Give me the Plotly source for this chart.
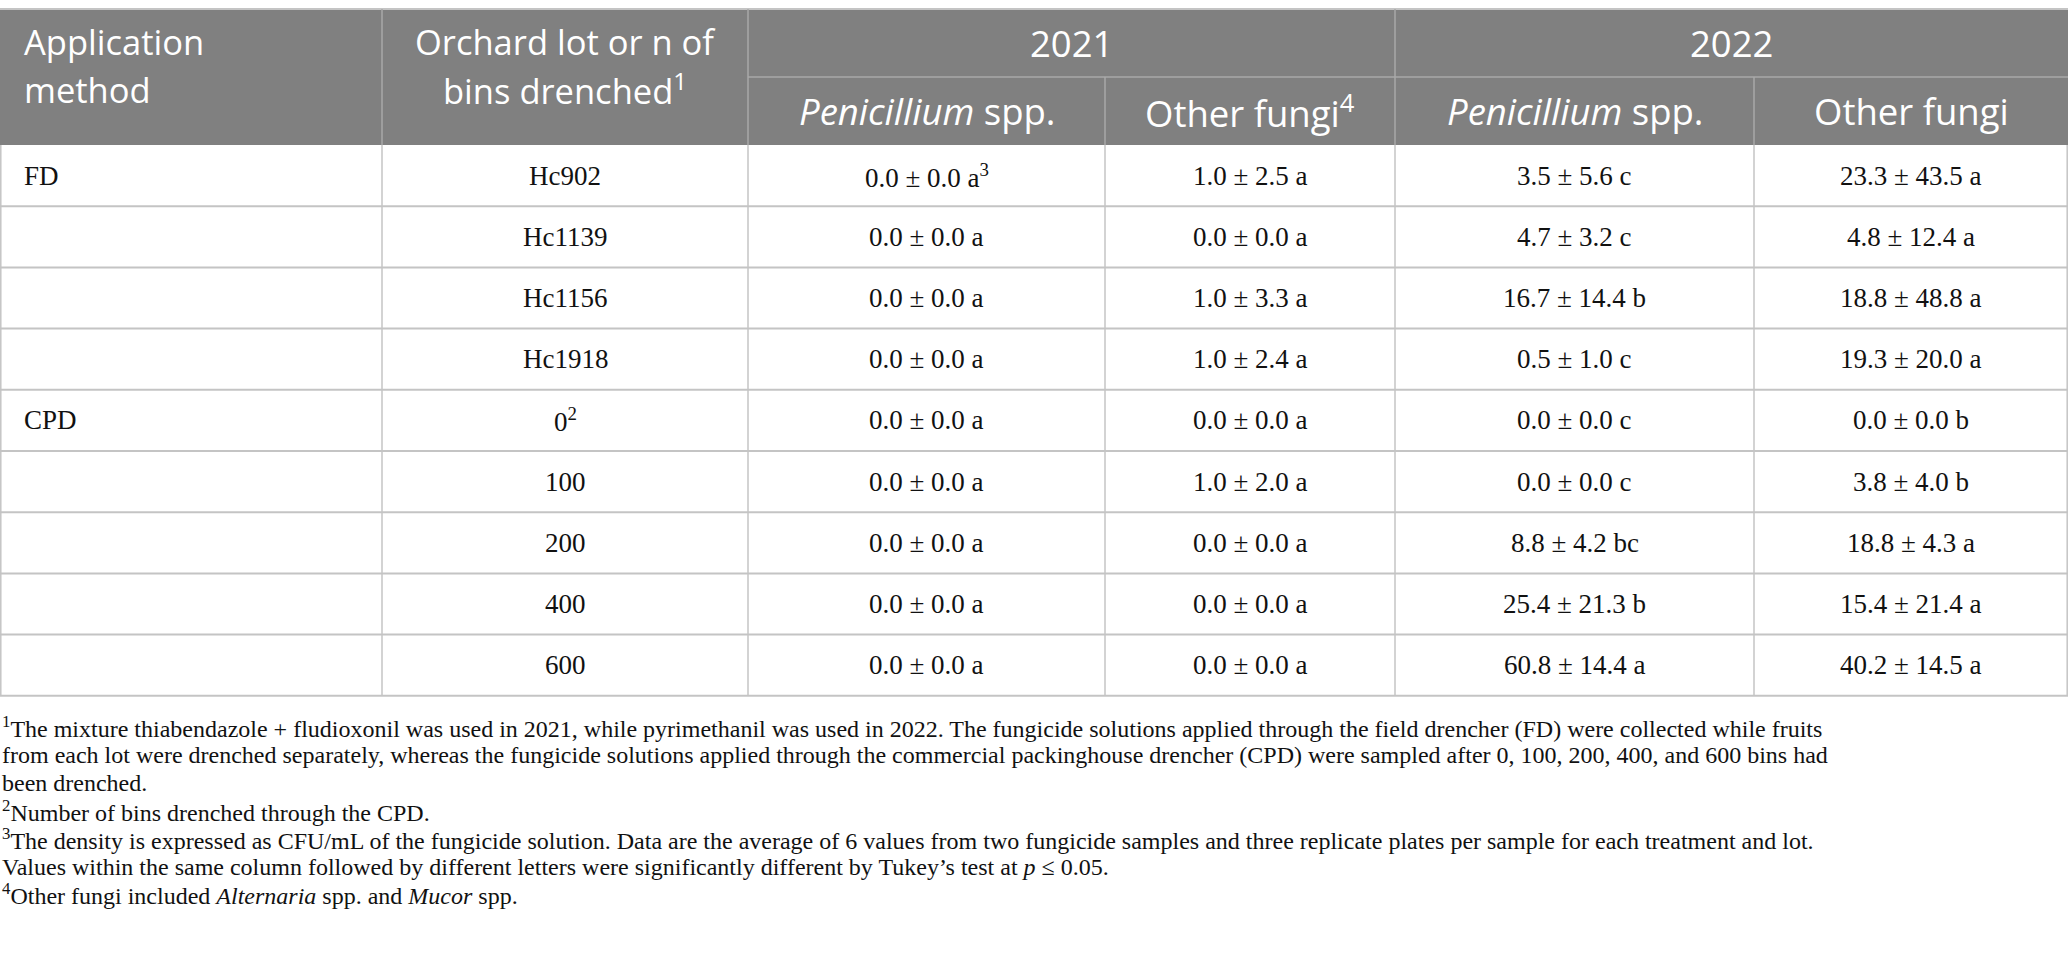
import plotly.graph_objects as go

# Table content.
methods = ["FD", "", "", "", "CPD", "", "", "", ""]
lots = ["Hc902", "Hc1139", "Hc1156", "Hc1918", "0<sup>2</sup>", "100", "200", "400", "600"]

pen21_mean = [0.0, 0.0, 0.0, 0.0, 0.0, 0.0, 0.0, 0.0, 0.0]
pen21_sd = [0.0, 0.0, 0.0, 0.0, 0.0, 0.0, 0.0, 0.0, 0.0]
pen21_letter = ["a", "a", "a", "a", "a", "a", "a", "a", "a"]

oth21_mean = [1.0, 0.0, 1.0, 1.0, 0.0, 1.0, 0.0, 0.0, 0.0]
oth21_sd = [2.5, 0.0, 3.3, 2.4, 0.0, 2.0, 0.0, 0.0, 0.0]
oth21_letter = ["a", "a", "a", "a", "a", "a", "a", "a", "a"]

pen22_mean = [3.5, 4.7, 16.7, 0.5, 0.0, 0.0, 8.8, 25.4, 60.8]
pen22_sd = [5.6, 3.2, 14.4, 1.0, 0.0, 0.0, 4.2, 21.3, 14.4]
pen22_letter = ["c", "c", "b", "c", "c", "c", "bc", "b", "a"]

oth22_mean = [23.3, 4.8, 18.8, 19.3, 0.0, 3.8, 18.8, 15.4, 40.2]
oth22_sd = [43.5, 12.4, 48.8, 20.0, 0.0, 4.0, 4.3, 21.4, 14.5]
oth22_letter = ["a", "a", "a", "a", "b", "b", "a", "a", "a"]

method_header = ["Application", "method"]
lot_header = ["Orchard lot or n of", "bins drenched<sup>1</sup>"]
years = ["2021", "2022"]
sub_headers = ["<i>Penicillium</i> spp.", "Other fungi<sup>4</sup>",
               "<i>Penicillium</i> spp.", "Other fungi"]

footnotes = [
    "<sup>1</sup>The mixture thiabendazole + fludioxonil was used in 2021, while pyrimethanil was used in 2022. "
    "The fungicide solutions applied through the field drencher (FD) were collected while fruits",
    "from each lot were drenched separately, whereas the fungicide solutions applied through the commercial "
    "packinghouse drencher (CPD) were sampled after 0, 100, 200, 400, and 600 bins had",
    "been drenched.",
    "<sup>2</sup>Number of bins drenched through the CPD.",
    "<sup>3</sup>The density is expressed as CFU/mL of the fungicide solution. Data are the average of 6 values "
    "from two fungicide samples and three replicate plates per sample for each treatment and lot.",
    "Values within the same column followed by different letters were significantly different by Tukey’s test "
    "at <i>p</i> ≤ 0.05.",
    "<sup>4</sup>Other fungi included <i>Alternaria</i> spp. and <i>Mucor</i> spp.",
]

# Layout geometry (pixels).
W, H = 2068, 979
col_edges = [0, 382, 748, 1105, 1395, 1754, 2068]
head_top, head_mid, head_bot = 9, 77, 145
head_lines_y = [41.5, 89]
row_h = 61.2
fn_top, fn_step = 727, 27.9

header_bg = "#808080"
grid = "#c4c4c4"
head_grid = "#a9a9a9"
sans = "Open Sans"
serif = "Liberation Serif"


def fmt(m, s, l):
    return f"{m:.1f} ± {s:.1f} {l}"


value_cols = []
for means, sds, letters in [(pen21_mean, pen21_sd, pen21_letter),
                            (oth21_mean, oth21_sd, oth21_letter),
                            (pen22_mean, pen22_sd, pen22_letter),
                            (oth22_mean, oth22_sd, oth22_letter)]:
    value_cols.append([fmt(m, s, l) for m, s, l in zip(means, sds, letters)])
value_cols[0][0] += "<sup>3</sup>"

n_rows = len(lots)
row_edges = [head_bot + i * row_h for i in range(n_rows + 1)]

shapes = []
annotations = []


def line(x0, y0, x1, y1, color, width):
    shapes.append(dict(type="line", xref="x", yref="y", x0=x0, y0=y0, x1=x1, y1=y1,
                       line=dict(color=color, width=width)))


# Header block.
shapes.append(dict(type="rect", xref="x", yref="y", x0=0, y0=head_top, x1=W, y1=head_bot,
                   fillcolor=header_bg, line=dict(width=0), layer="below"))
line(0, head_top, W, head_top, grid, 2)
for x in [col_edges[1], col_edges[2], col_edges[4]]:
    line(x, head_top, x, head_bot, head_grid, 1.5)
for x in [col_edges[3], col_edges[5]]:
    line(x, head_mid, x, head_bot, head_grid, 1.5)
line(col_edges[2], head_mid, W, head_mid, head_grid, 1.5)

# Body grid.
for y in row_edges[1:]:
    line(0, y, W, y, grid, 2)
for x in col_edges[1:-1]:
    line(x, head_bot, x, row_edges[-1], grid, 1.5)
line(0.8, head_bot, 0.8, row_edges[-1], grid, 1.5)
line(W - 0.8, head_bot, W - 0.8, row_edges[-1], grid, 1.5)

head_font = dict(family=sans, size=36.5, color="white")
head2_font = dict(family=sans, size=34.5, color="white")
body_font = dict(family=serif, size=27, color="#111111")

# Header texts.
for txt, y in zip(method_header, head_lines_y):
    annotations.append(dict(x=22, y=y, text=txt, xanchor="left", yanchor="middle",
                            showarrow=False, font=head2_font))
for txt, y in zip(lot_header, head_lines_y):
    annotations.append(dict(x=(col_edges[1] + col_edges[2]) / 2, y=y, text=txt,
                            xanchor="center", yanchor="middle", showarrow=False, font=head2_font))
for i, yr in enumerate(years):
    x0, x1 = col_edges[2 + 2 * i], col_edges[4 + 2 * i]
    annotations.append(dict(x=(x0 + x1) / 2, y=(head_top + head_mid) / 2, text=yr,
                            xanchor="center", yanchor="middle", showarrow=False, font=head_font))
for i, sh in enumerate(sub_headers):
    x0, x1 = col_edges[2 + i], col_edges[3 + i]
    annotations.append(dict(x=(x0 + x1) / 2, y=(head_mid + head_bot) / 2, text=sh,
                            xanchor="center", yanchor="middle", showarrow=False, font=head_font))

# Body texts.
for r in range(n_rows):
    yc = (row_edges[r] + row_edges[r + 1]) / 2
    if methods[r]:
        annotations.append(dict(x=22, y=yc, text=methods[r], xanchor="left", yanchor="middle",
                                showarrow=False, font=body_font))
    cells = [lots[r]] + [col[r] for col in value_cols]
    for c, txt in enumerate(cells):
        x0, x1 = col_edges[1 + c], col_edges[2 + c]
        annotations.append(dict(x=(x0 + x1) / 2, y=yc, text=txt, xanchor="center", yanchor="middle",
                                showarrow=False, font=body_font))

# Footnotes.
fn_font = dict(family=serif, size=24, color="#111111")
for i, txt in enumerate(footnotes):
    annotations.append(dict(x=0, y=fn_top + i * fn_step, text=txt, xanchor="left", yanchor="middle",
                            showarrow=False, font=fn_font, align="left"))

fig = go.Figure()
fig.update_layout(
    width=W, height=H,
    margin=dict(l=0, r=0, t=0, b=0),
    paper_bgcolor="white", plot_bgcolor="white",
    xaxis=dict(range=[0, W], visible=False, fixedrange=True),
    yaxis=dict(range=[H, 0], visible=False, fixedrange=True),
    shapes=shapes,
    annotations=annotations,
    showlegend=False,
)

fig.write_html("out.html", post_script="document.body.style.margin='0';",
               config={"displayModeBar": False})
